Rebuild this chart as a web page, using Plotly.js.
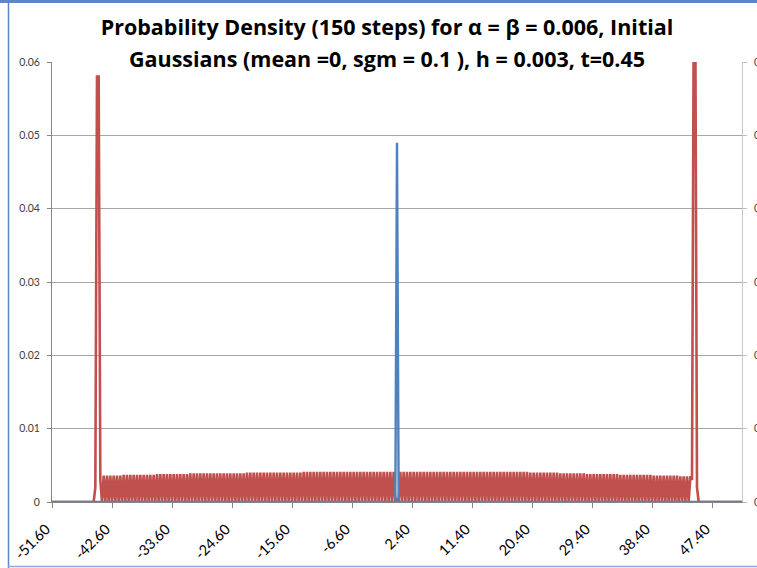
<!DOCTYPE html>
<html>
<head>
<meta charset="utf-8">
<script src="https://cdn.plot.ly/plotly-3.0.1.min.js"></script>
<style>
html,body{margin:0;padding:0;background:#fff;}
#chart{width:757px;height:568px;}
</style>
</head>
<body>
<div id="chart"></div>
<script>
// x categories: sampled from xStart with step xStep (415 samples)
const xStart = -51.6;
const xStep = 0.25;

// x-axis tick labels (every 9.00 units)
const tickValues = [-51.6, -42.6, -33.6, -24.6, -15.6, -6.6, 2.4, 11.4, 20.4, 29.4, 38.4, 47.4];
const tickLabels = ["-51.60", "-42.60", "-33.60", "-24.60", "-15.60", "-6.60", "2.40", "11.40", "20.40", "29.40", "38.40", "47.40"];

// y-axis ticks
const yTickValues = [0, 0.01, 0.02, 0.03, 0.04, 0.05, 0.06];
const yTickLabels = ["0", "0.01", "0.02", "0.03", "0.04", "0.05", "0.06"];

// series 1 (red): density at each x sample
const redY = [
  0,0,0,0,0,0,0,0,0,0,
  0,0,0,0,0,0,0,0,0,0,
  0,0,0,0,0,0,
  0.002,0.058,0.058,
  0.003,0,0.0036,0,0.0036,0,0.0036,0,0.0036,0,
  0.0036,0,0.0036,0,
  0.0037,0,0.0037,0,0.0037,0,0.0037,0,0.0037,0,
  0.0037,0,0.0037,0,0.0037,0,0.0037,0,0.0037,0,
  0.0038,0,0.0038,0,0.0038,0,0.0038,0,0.0038,0,
  0.0038,0,0.0038,0,0.0038,0,0.0038,0,0.0038,0,
  0.0039,0,0.0039,0,0.0039,0,0.0039,0,0.0039,0,
  0.0039,0,0.0039,0,0.0039,0,0.0039,0,0.0039,0,
  0.0039,0,0.0039,0,0.0039,0,0.0039,0,0.0039,0,
  0.0039,0,0.0039,0,
  0.0040,0,0.0040,0,0.0040,0,0.0040,0,0.0040,0,
  0.0040,0,0.0040,0,0.0040,0,0.0040,0,0.0040,0,
  0.0040,0,0.0040,0,0.0040,0,0.0040,0,0.0040,0,
  0.0040,0,0.0040,0,
  0.0041,0,0.0041,0,0.0041,0,0.0041,0,0.0041,0,
  0.0041,0,0.0041,0,0.0041,0,0.0041,0,0.0041,0,
  0.0041,0,0.0041,0,0.0041,0,0.0041,0,0.0041,0,
  0.0041,0,0.0041,0,0.0041,0,0.0041,0,0.0041,0,
  0.0041,0,0.0041,0,0.0041,0,0.0041,0,0.0041,0,
  0.0041,0,0.0041,0,0.0041,0,
  0.0005,0,
  0.0041,0,0.0041,0,0.0041,0,0.0041,0,0.0041,0,
  0.0041,0,0.0041,0,0.0041,0,0.0041,0,0.0041,0,
  0.0041,0,0.0041,0,0.0041,0,0.0041,0,0.0041,0,
  0.0041,0,0.0041,0,0.0041,0,0.0041,0,0.0041,0,
  0.0041,0,0.0041,0,0.0041,0,0.0041,0,0.0041,0,
  0.0041,0,0.0041,0,0.0041,0,0.0041,0,0.0041,0,
  0.0041,0,0.0041,0,0.0041,0,0.0041,0,0.0041,0,
  0.0041,0,0.0041,0,0.0041,0,0.0041,0,
  0.0040,0,0.0040,0,0.0040,0,0.0040,0,0.0040,0,
  0.0040,0,0.0040,0,0.0040,0,0.0040,0,
  0.0039,0,0.0039,0,0.0039,0,0.0039,0,0.0039,0,
  0.0039,0,0.0039,0,0.0039,0,
  0.0038,0,0.0038,0,0.0038,0,0.0038,0,0.0038,0,
  0.0038,0,0.0038,0,0.0038,0,0.0038,0,0.0038,0,
  0.0037,0,0.0037,0,0.0037,0,0.0037,0,0.0037,0,
  0.0037,0,0.0037,0,0.0037,0,0.0037,0,0.0037,0,
  0.0036,0,0.0036,0,0.0036,0,0.0036,0,0.0036,0,
  0.0036,0,0.0036,0,0.0036,0,
  0.0035,0,0.0035,0,0.0035,0,
  0.0035,0.003,0.065,0.065,0.002,
  0,0,0,0,0,0,0,0,0,0,
  0,0,0,0,0,0,0,0,0,0,
  0,0,0,0,0,0,0
];

// series 2 (blue): zero everywhere except the central peak
const blueX = [-51.6, -0.1, 0.15, 0.4, 51.9];
const blueY = [0, 0, 0.049, 0, 0];

const titleLine1 = "Probability Density (150 steps) for α = β = 0.006, Initial";
const titleLine2 = "Gaussians (mean =0, sgm = 0.1 ), h = 0.003, t=0.45";

const FONT = "Lato, 'Open Sans', sans-serif";
const TFONT = "'Open Sans', Lato, sans-serif";
const W = 757, H = 568;
const M = {l: 52, r: 15, t: 62, b: 66};
const pw = W - M.l - M.r, ph = H - M.t - M.b;
const px = v => (v - M.l) / pw;
const py = v => (H - M.b - v) / ph;

const traces = [
  {
    type: "scatter", mode: "lines", name: "p1",
    x0: xStart, dx: xStep, y: redY,
    line: {color: "#C0504D", width: 2.6},
    hoverinfo: "skip"
  },
  {
    type: "scatter", mode: "lines", name: "p2",
    x: blueX, y: blueY, yaxis: "y2",
    line: {color: "#4F81BD", width: 2.4},
    hoverinfo: "skip"
  }
];

const borderColor = "#5B87C2";
const yAxisCommon = {
  range: [0, 0.06],
  tickmode: "array", tickvals: yTickValues, ticktext: yTickLabels,
  tickfont: {family: FONT, size: 10.5, color: "#404040"},
  ticks: "outside", ticklen: 4, ticklabelstandoff: 5,
  showline: true, linewidth: 1,
  zeroline: false, fixedrange: true
};

const layout = {
  width: W, height: H,
  margin: M,
  paper_bgcolor: "#ffffff",
  plot_bgcolor: "#ffffff",
  showlegend: false,
  font: {family: FONT, color: "#404040"},
  title: {
    text: titleLine1,
    font: {family: TFONT, size: 21.5, color: "#000000", weight: "bold"},
    x: 387 / W, xref: "container", xanchor: "center",
    y: 1 - 27 / H, yref: "container", yanchor: "middle"
  },
  annotations: [{
    text: titleLine2, showarrow: false,
    font: {family: TFONT, size: 21.5, color: "#000000", weight: "bold"},
    xref: "paper", yref: "paper", x: px(387), y: py(58),
    xanchor: "center", yanchor: "middle"
  }],
  xaxis: {
    range: [-51.6, 51.9],
    tickmode: "array", tickvals: tickValues, ticktext: tickLabels,
    tickangle: -45,
    tickfont: {family: FONT, size: 14.5, color: "#000000"},
    ticks: "outside", ticklen: 5, tickcolor: "#868686", tickwidth: 1,
    ticklabelshift: -6, ticklabelstandoff: 7,
    showline: true, linecolor: "#868686", linewidth: 1,
    showgrid: false, zeroline: false, fixedrange: true
  },
  yaxis: Object.assign({}, yAxisCommon, {
    side: "left", tickcolor: "#868686", linecolor: "#868686",
    showgrid: true, gridcolor: "#A6A6A6", gridwidth: 1
  }),
  yaxis2: Object.assign({}, yAxisCommon, {
    overlaying: "y", side: "right", anchor: "x",
    tickcolor: "#BFBFBF", linecolor: "#C8C8C8",
    showgrid: false
  }),
  shapes: [
    // title box hides the top gridline under the title
    {type: "rect", layer: "between", xref: "paper", yref: "paper",
     x0: px(90), x1: px(685), y0: py(64), y1: py(59),
     fillcolor: "#ffffff", line: {width: 0}},
    // chart frame
    {type: "line", xref: "paper", yref: "paper",
     x0: px(0), x1: px(757), y0: py(1.5), y1: py(1.5),
     line: {color: borderColor, width: 3}},
    {type: "line", xref: "paper", yref: "paper",
     x0: px(8.5), x1: px(8.5), y0: py(0), y1: py(568),
     line: {color: borderColor, width: 1.5}},
    {type: "line", xref: "paper", yref: "paper",
     x0: px(8), x1: px(757), y0: py(566.5), y1: py(566.5),
     line: {color: "#8FAAD6", width: 1.5}}
  ]
};

Plotly.newPlot("chart", traces, layout, {displayModeBar: false, staticPlot: true});
</script>
</body>
</html>
